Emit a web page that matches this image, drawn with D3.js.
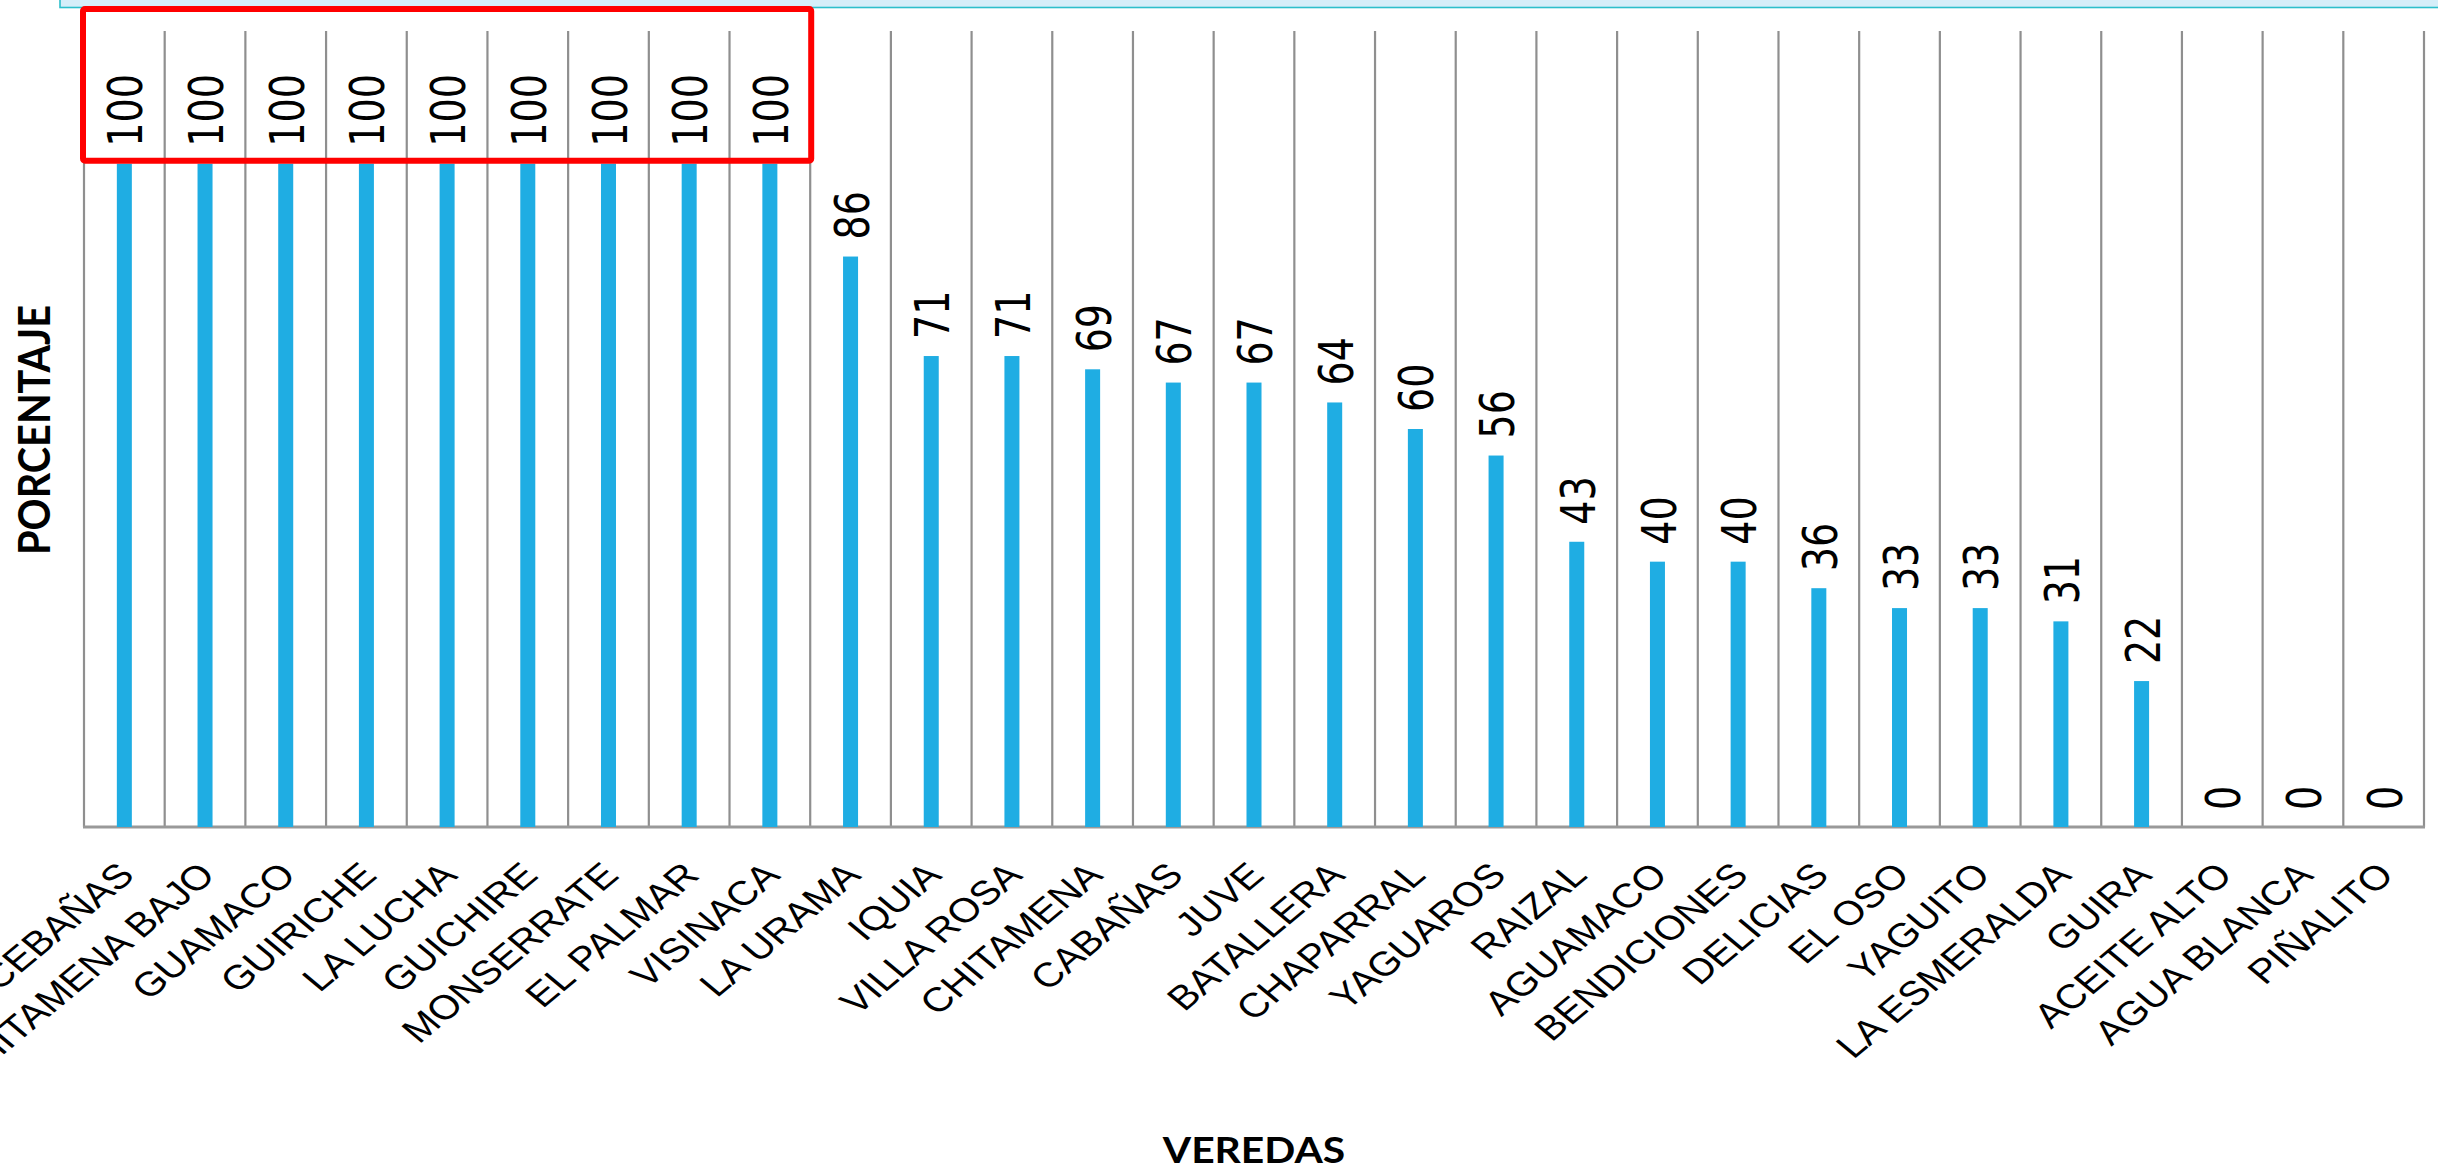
<!DOCTYPE html>
<html>
<head>
<meta charset="utf-8">
<script src="https://cdn.jsdelivr.net/npm/d3@7"></script>
<style>
body{margin:0;background:#fff;}
svg{display:block;}
</style>
</head>
<body>
<div id="chart"></div>
<script>
var veredas = ["CEBAÑAS","CHITAMENA BAJO","GUAMACO","GUIRICHE","LA LUCHA","GUICHIRE","MONSERRATE","EL PALMAR","VISINACA","LA URAMA","IQUIA","VILLA ROSA","CHITAMENA","CABAÑAS","JUVE","BATALLERA","CHAPARRAL","YAGUAROS","RAIZAL","AGUAMACO","BENDICIONES","DELICIAS","EL OSO","YAGUITO","LA ESMERALDA","GUIRA","ACEITE ALTO","AGUA BLANCA","PIÑALITO"];
var porcentajes = [100,100,100,100,100,100,100,100,100,86,71,71,69,67,67,64,60,56,43,40,40,36,33,33,31,22,0,0,0];
var yDomain = [0,120];
var resaltadas = veredas.slice(0,9);

var WIDTH = 2438, HEIGHT = 1169;
var LEFT = 84, RIGHT = 2424, TOP = 31, BOTTOM = 827;
var STRETCH = 1.2;

var svg = d3.select("#chart").append("svg")
    .attr("width",WIDTH)
    .attr("height",HEIGHT);

var x = d3.scaleBand().domain(veredas).range([LEFT,RIGHT]).padding(0);
var y = d3.scaleLinear().domain(yDomain).range([BOTTOM,TOP]);

// cyan band cut off at the top
svg.append("rect")
    .attr("x",60).attr("y",-4)
    .attr("width",WIDTH).attr("height",11.5)
    .attr("fill","#d5eef9")
    .attr("stroke","#2dbfcb")
    .attr("stroke-width",1.6);

// vertical grid lines at category edges
var edges = veredas.map(function(d){ return x(d); }).concat([RIGHT]);
svg.append("g").selectAll("line")
    .data(edges)
    .enter().append("line")
    .attr("x1",function(d){ return d; })
    .attr("x2",function(d){ return d; })
    .attr("y1",TOP).attr("y2",BOTTOM)
    .attr("stroke","#8f8f8f")
    .attr("stroke-width",2.2);

svg.append("line")
    .attr("x1",LEFT-1).attr("x2",RIGHT+1)
    .attr("y1",BOTTOM).attr("y2",BOTTOM)
    .attr("stroke","#999")
    .attr("stroke-width",3);

var barW = x.bandwidth()*0.186;
svg.append("g").selectAll("rect")
    .data(veredas)
    .enter().append("rect")
    .attr("x",function(d){ return x(d)+x.bandwidth()/2-barW/2; })
    .attr("y",function(d,i){ return y(porcentajes[i]); })
    .attr("width",barW)
    .attr("height",function(d,i){ return y(0)-y(porcentajes[i]); })
    .attr("fill","#1fade3");

// value labels, vertical
svg.append("g").selectAll("text")
    .data(veredas)
    .enter().append("text")
    .attr("transform",function(d,i){
        return "translate("+(x(d)+x.bandwidth()/2+1.5)+","+(y(porcentajes[i])-17)+") scale(1.25,1) rotate(-90)";
    })
    .attr("dominant-baseline","central")
    .attr("font-family","DejaVu Sans")
    .attr("font-size",38)
    .attr("fill","#000")
    .text(function(d,i){ return porcentajes[i]; });

// category labels at -45
svg.append("g").selectAll("text")
    .data(veredas)
    .enter().append("text")
    .attr("transform",function(d){
        return "translate("+(x(d)+x.bandwidth()/2+12)+","+(BOTTOM+50)+") scale("+STRETCH+",1) rotate(-45)";
    })
    .attr("text-anchor","end")
    .attr("font-family","Liberation Sans, Arial")
    .attr("font-size",34)
    .attr("fill","#000")
    .text(function(d){ return d; });

// red highlight box
var x0 = x(resaltadas[0]), x1 = x(resaltadas[resaltadas.length-1])+x.bandwidth();
svg.append("rect")
    .attr("x",x0-1).attr("y",9)
    .attr("width",x1-x0+2)
    .attr("height",y(100)-3-9)
    .attr("rx",2)
    .attr("fill","none")
    .attr("stroke","#ff0000")
    .attr("stroke-width",6);

svg.append("text")
    .attr("transform","translate(50,430) scale("+STRETCH+",1) rotate(-90)")
    .attr("text-anchor","middle")
    .attr("font-family","Lato")
    .attr("font-weight","bold")
    .attr("font-size",37)
    .attr("textLength",250)
    .attr("lengthAdjust","spacingAndGlyphs")
    .text("PORCENTAJE");

svg.append("text")
    .attr("transform","translate("+((LEFT+RIGHT)/2)+",1163) scale("+STRETCH+",1)")
    .attr("text-anchor","middle")
    .attr("font-family","Lato")
    .attr("font-weight","bold")
    .attr("font-size",37)
    .attr("textLength",152)
    .attr("lengthAdjust","spacingAndGlyphs")
    .text("VEREDAS");
</script>
</body>
</html>
